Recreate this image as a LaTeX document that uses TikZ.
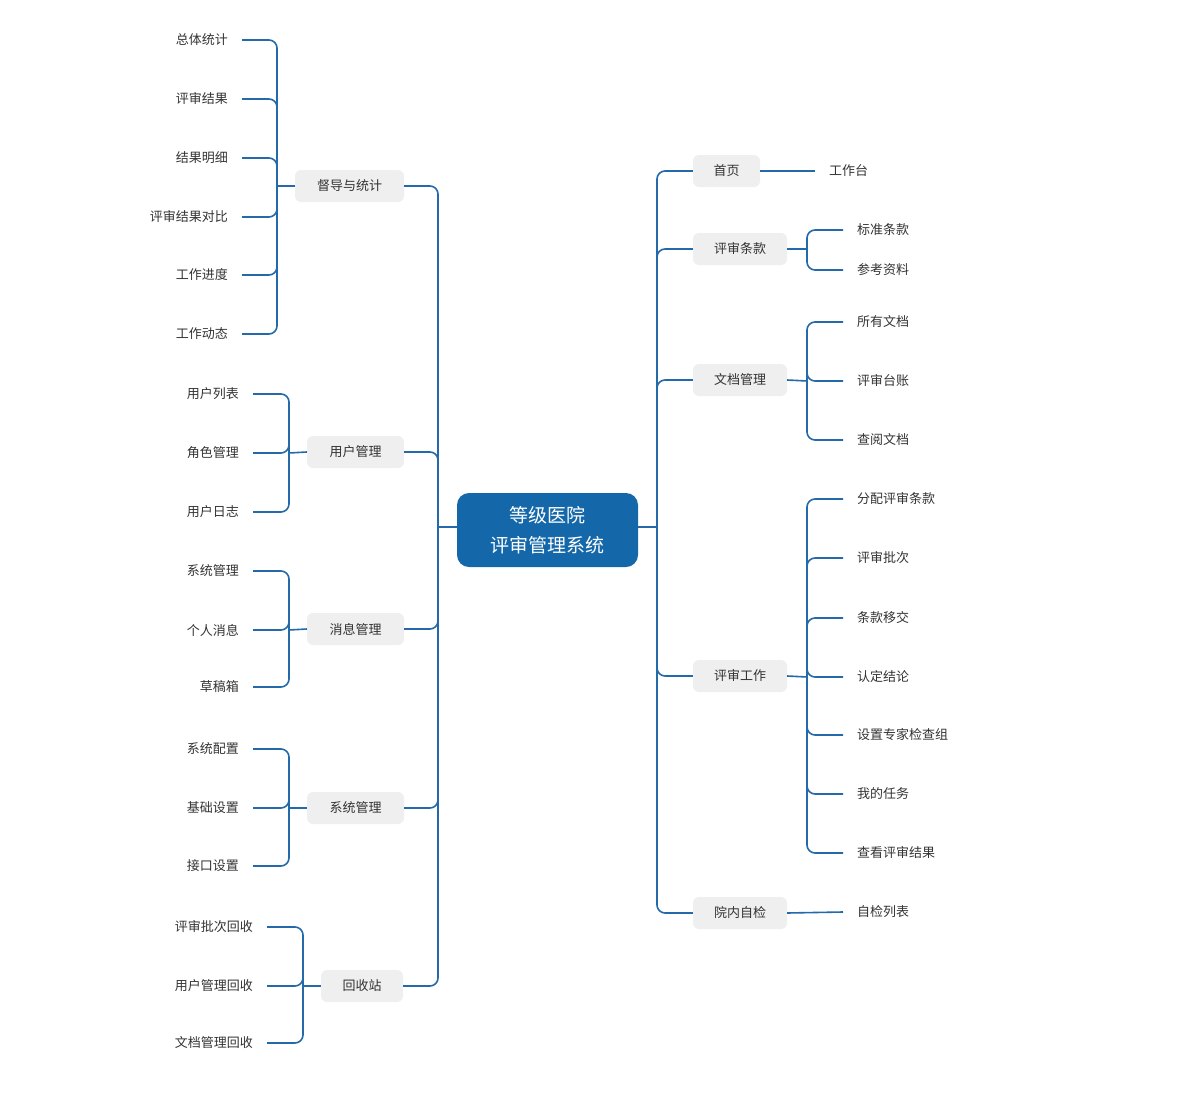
\documentclass[tikz,border=0pt]{standalone}
\usepackage{fontspec}
\setmainfont{Noto Sans CJK SC}
\definecolor{ln}{HTML}{2469AA}
\definecolor{cb}{HTML}{1467A9}
\definecolor{gb}{HTML}{EFEFEF}
\definecolor{tx}{HTML}{333333}
\begin{document}
\begin{tikzpicture}[x=1pt,y=-1pt,
 l1/.style={fill=gb,rounded corners=6pt,minimum height=32pt,inner xsep=10pt,text=tx,font=\fontsize{13}{15}\selectfont},
 lf/.style={inner xsep=14pt,inner ysep=2pt,text=tx,font=\fontsize{13}{15}\selectfont},
 cn/.style={draw=ln,line width=1.6pt,rounded corners=8pt},
 bl/.style={draw=ln,line width=1.6pt}]
\useasboundingbox (0,0) rectangle (1200,1100);
\node[fill=cb,rounded corners=12pt,minimum width=181pt,minimum height=74pt,text=white,align=center,font=\fontsize{19}{30}\selectfont] (c) at (547.5,530) {等级医院\\评审管理系统};
% right level 1
\node[l1,minimum width=67pt] (r1) at (726.5,171) {首页};
\node[l1,minimum width=94pt] (r2) at (740,249) {评审条款};
\node[l1,minimum width=94pt] (r3) at (740,380) {文档管理};
\node[l1,minimum width=94pt] (r4) at (740,676) {评审工作};
\node[l1,minimum width=94pt] (r5) at (740,913) {院内自检};
% left level 1
\node[l1,minimum width=109pt] (a1) at (349.5,186) {督导与统计};
\node[l1,minimum width=97pt] (a2) at (355.5,452) {用户管理};
\node[l1,minimum width=97pt] (a3) at (355.5,629) {消息管理};
\node[l1,minimum width=97pt] (a4) at (355.5,808) {系统管理};
\node[l1,minimum width=82pt] (a5) at (362,986) {回收站};
\coordinate (tr) at (657,527);
\coordinate (tl) at (438,527);
\draw[bl] (c.east|-tr) -- (tr);
\draw[bl] (c.west|-tl) -- (tl);
\foreach \n in {r1,r2,r3,r4,r5} \draw[cn] (tr) |- (\n.west);
\foreach \n in {a1,a2,a3,a4,a5} \draw[cn] (tl) |- (\n.east);
% right leaves
\node[lf,anchor=west] (w1) at (815,171) {工作台};
\draw[bl] (r1.east) -- (w1.west);
\coordinate (b2) at (807,249);
\draw[bl] (r2.east) -- (b2);
\foreach \t/\y [count=\i] in {标准条款/230,参考资料/270}{
 \node[lf,anchor=west] (x2\i) at (843,\y) {\t};
 \draw[cn] (b2) |- (x2\i.west);}
\coordinate (b3) at (807,381);
\draw[bl] (r3.east) -- (b3);
\foreach \t/\y [count=\i] in {所有文档/322,评审台账/381,查阅文档/440}{
 \node[lf,anchor=west] (x3\i) at (843,\y) {\t};
 \draw[cn] (b3) |- (x3\i.west);}
\coordinate (b4) at (807,677);
\draw[bl] (r4.east) -- (b4);
\foreach \t/\y [count=\i] in {分配评审条款/499,评审批次/558,条款移交/618,认定结论/677,设置专家检查组/735,我的任务/794,查看评审结果/853}{
 \node[lf,anchor=west] (x4\i) at (843,\y) {\t};
 \draw[cn] (b4) |- (x4\i.west);}
\node[lf,anchor=west] (x51) at (843,912) {自检列表};
\draw[bl] (r5.east) -- (x51.west);
% left leaves
\coordinate (k1) at (277,186);
\draw[bl] (a1.west) -- (k1);
\foreach \t/\y [count=\i] in {总体统计/40,评审结果/99,结果明细/158,评审结果对比/217,工作进度/275,工作动态/334}{
 \node[lf,anchor=east] (y1\i) at (242,\y) {\t};
 \draw[cn] (k1) |- (y1\i.east);}
\coordinate (k2) at (289,453);
\draw[bl] (a2.west) -- (k2);
\foreach \t/\y [count=\i] in {用户列表/394,角色管理/453,用户日志/512}{
 \node[lf,anchor=east] (y2\i) at (253,\y) {\t};
 \draw[cn] (k2) |- (y2\i.east);}
\coordinate (k3) at (289,630);
\draw[bl] (a3.west) -- (k3);
\foreach \t/\y [count=\i] in {系统管理/571,个人消息/630,草稿箱/687}{
 \node[lf,anchor=east] (y3\i) at (253,\y) {\t};
 \draw[cn] (k3) |- (y3\i.east);}
\coordinate (k4) at (289,808);
\draw[bl] (a4.west) -- (k4);
\foreach \t/\y [count=\i] in {系统配置/749,基础设置/808,接口设置/866}{
 \node[lf,anchor=east] (y4\i) at (253,\y) {\t};
 \draw[cn] (k4) |- (y4\i.east);}
\coordinate (k5) at (303,986);
\draw[bl] (a5.west) -- (k5);
\foreach \t/\y [count=\i] in {评审批次回收/927,用户管理回收/986,文档管理回收/1043}{
 \node[lf,anchor=east] (y5\i) at (267,\y) {\t};
 \draw[cn] (k5) |- (y5\i.east);}
\end{tikzpicture}
\end{document}
